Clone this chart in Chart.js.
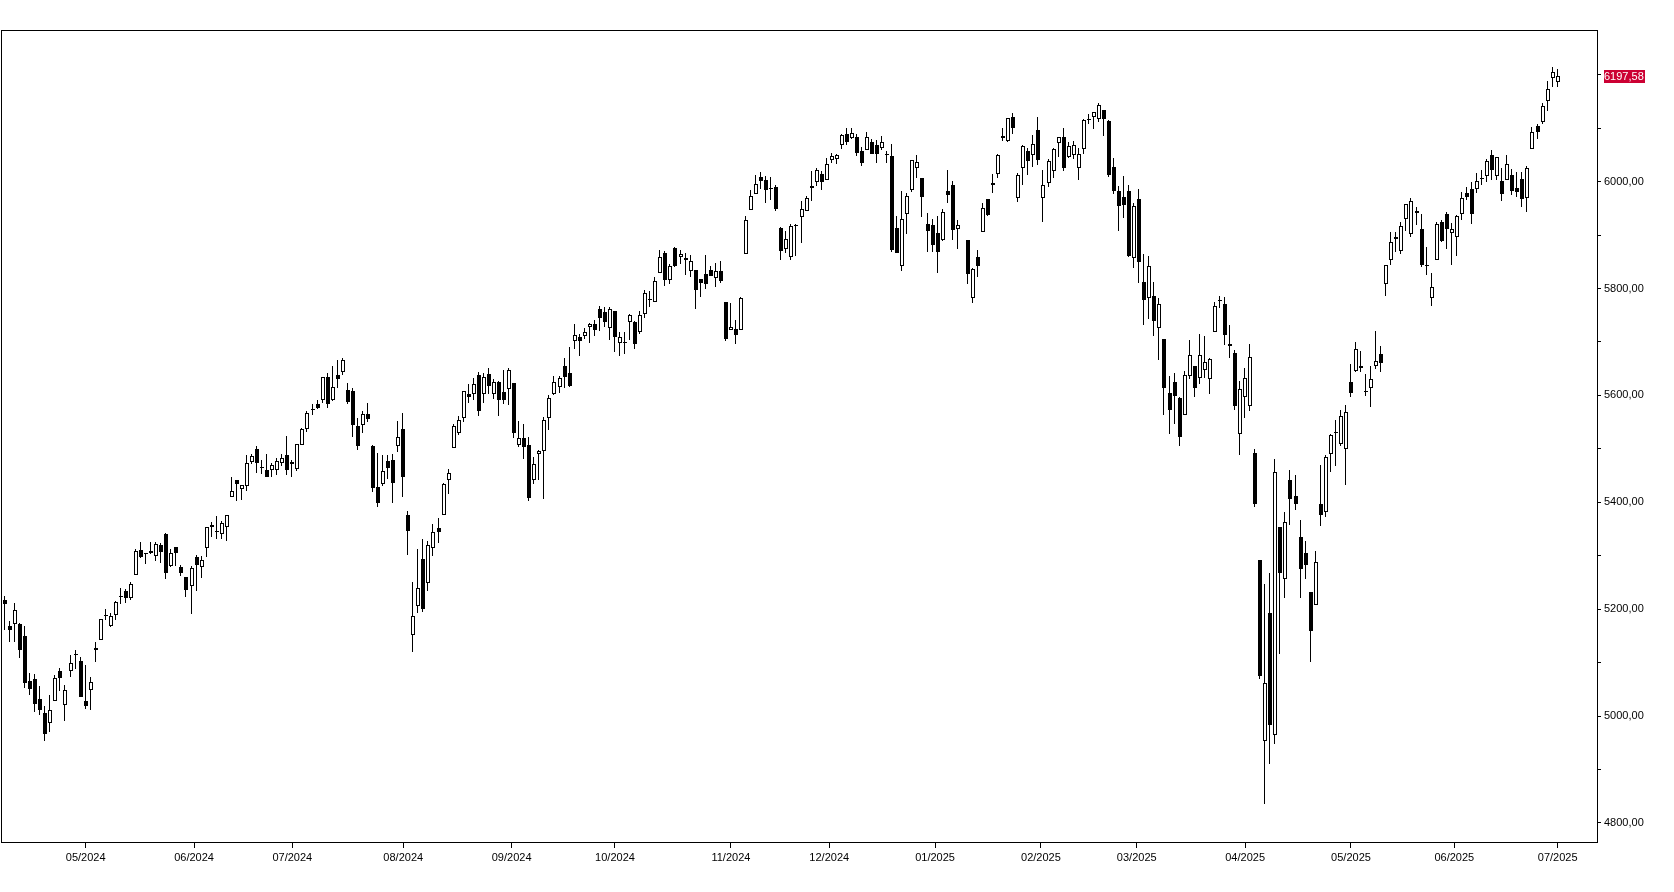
<!DOCTYPE html>
<html>
<head>
<meta charset="utf-8">
<script src="https://cdn.jsdelivr.net/npm/chart.js@4.4.1/dist/chart.umd.min.js"></script>
<style>
html,body{margin:0;padding:0;background:#fff;}
canvas{display:block;}
</style>
</head>
<body>
<canvas id="c" width="1674" height="892"></canvas>
<script>
const dates = [
"2024-04-09","2024-04-10","2024-04-11","2024-04-12","2024-04-15","2024-04-16","2024-04-17","2024-04-18","2024-04-19","2024-04-22","2024-04-23","2024-04-24","2024-04-25","2024-04-26","2024-04-29","2024-04-30",
"2024-05-01","2024-05-02","2024-05-03","2024-05-06","2024-05-07","2024-05-08","2024-05-09","2024-05-10","2024-05-13","2024-05-14","2024-05-15","2024-05-16","2024-05-17","2024-05-20","2024-05-21","2024-05-22","2024-05-23","2024-05-24","2024-05-28","2024-05-29","2024-05-30","2024-05-31",
"2024-06-03","2024-06-04","2024-06-05","2024-06-06","2024-06-07","2024-06-10","2024-06-11","2024-06-12","2024-06-13","2024-06-14","2024-06-17","2024-06-18","2024-06-20","2024-06-21","2024-06-24","2024-06-25","2024-06-26","2024-06-27","2024-06-28",
"2024-07-01","2024-07-02","2024-07-03","2024-07-05","2024-07-08","2024-07-09","2024-07-10","2024-07-11","2024-07-12","2024-07-15","2024-07-16","2024-07-17","2024-07-18","2024-07-19","2024-07-22","2024-07-23","2024-07-24","2024-07-25","2024-07-26","2024-07-29","2024-07-30","2024-07-31",
"2024-08-01","2024-08-02","2024-08-05","2024-08-06","2024-08-07","2024-08-08","2024-08-09","2024-08-12","2024-08-13","2024-08-14","2024-08-15","2024-08-16","2024-08-19","2024-08-20","2024-08-21","2024-08-22","2024-08-23","2024-08-26","2024-08-27","2024-08-28","2024-08-29","2024-08-30",
"2024-09-03","2024-09-04","2024-09-05","2024-09-06","2024-09-09","2024-09-10","2024-09-11","2024-09-12","2024-09-13","2024-09-16","2024-09-17","2024-09-18","2024-09-19","2024-09-20","2024-09-23","2024-09-24","2024-09-25","2024-09-26","2024-09-27","2024-09-30",
"2024-10-01","2024-10-02","2024-10-03","2024-10-04","2024-10-07","2024-10-08","2024-10-09","2024-10-10","2024-10-11","2024-10-14","2024-10-15","2024-10-16","2024-10-17","2024-10-18","2024-10-21","2024-10-22","2024-10-23","2024-10-24","2024-10-25","2024-10-28","2024-10-29","2024-10-30","2024-10-31",
"2024-11-01","2024-11-04","2024-11-05","2024-11-06","2024-11-07","2024-11-08","2024-11-11","2024-11-12","2024-11-13","2024-11-14","2024-11-15","2024-11-18","2024-11-19","2024-11-20","2024-11-21","2024-11-22","2024-11-25","2024-11-26","2024-11-27","2024-11-29",
"2024-12-02","2024-12-03","2024-12-04","2024-12-05","2024-12-06","2024-12-09","2024-12-10","2024-12-11","2024-12-12","2024-12-13","2024-12-16","2024-12-17","2024-12-18","2024-12-19","2024-12-20","2024-12-23","2024-12-24","2024-12-26","2024-12-27","2024-12-30","2024-12-31",
"2025-01-02","2025-01-03","2025-01-06","2025-01-07","2025-01-08","2025-01-09","2025-01-10","2025-01-13","2025-01-14","2025-01-15","2025-01-16","2025-01-17","2025-01-21","2025-01-22","2025-01-23","2025-01-24","2025-01-27","2025-01-28","2025-01-29","2025-01-30","2025-01-31",
"2025-02-03","2025-02-04","2025-02-05","2025-02-06","2025-02-07","2025-02-10","2025-02-11","2025-02-12","2025-02-13","2025-02-14","2025-02-18","2025-02-19","2025-02-20","2025-02-21","2025-02-24","2025-02-25","2025-02-26","2025-02-27","2025-02-28",
"2025-03-03","2025-03-04","2025-03-05","2025-03-06","2025-03-07","2025-03-10","2025-03-11","2025-03-12","2025-03-13","2025-03-14","2025-03-17","2025-03-18","2025-03-19","2025-03-20","2025-03-21","2025-03-24","2025-03-25","2025-03-26","2025-03-27","2025-03-28","2025-03-31",
"2025-04-01","2025-04-02","2025-04-03","2025-04-04","2025-04-07","2025-04-08","2025-04-09","2025-04-10","2025-04-11","2025-04-14","2025-04-15","2025-04-16","2025-04-17","2025-04-21","2025-04-22","2025-04-23","2025-04-24","2025-04-25","2025-04-28","2025-04-29","2025-04-30",
"2025-05-01","2025-05-02","2025-05-05","2025-05-06","2025-05-07","2025-05-08","2025-05-09","2025-05-12","2025-05-13","2025-05-14","2025-05-15","2025-05-16","2025-05-19","2025-05-20","2025-05-21","2025-05-22","2025-05-23","2025-05-27","2025-05-28","2025-05-29","2025-05-30",
"2025-06-02","2025-06-03","2025-06-04","2025-06-05","2025-06-06","2025-06-09","2025-06-10","2025-06-11","2025-06-12","2025-06-13","2025-06-16","2025-06-17","2025-06-18","2025-06-20","2025-06-23","2025-06-24","2025-06-25","2025-06-26","2025-06-27","2025-06-30",
"2025-07-01"
];

// null = session without a candle (market closed 2025-01-09, slot kept empty in the chart)
const opens = [
5217.0,5167.9,5172.9,5171.5,5149.7,5064.6,5069.0,5031.5,5005.4,4987.3,5028.9,5084.7,5019.9,5084.6,5114.1,5103.8,
5029.0,5049.3,5122.8,5142.4,5187.2,5169.0,5189.3,5225.5,5233.1,5221.1,5263.3,5310.1,5303.1,5305.4,5298.7,5319.3,5340.3,5281.5,5315.9,5278.7,5259.8,5243.2,
5297.2,5278.2,5314.5,5357.8,5343.8,5341.2,5353.0,5409.1,5441.9,5424.1,5431.1,5476.2,5500.0,5466.8,5459.6,5460.7,5460.7,5473.6,5488.5,
5471.1,5461.8,5507.4,5537.9,5572.9,5584.2,5591.3,5635.2,5590.8,5638.2,5644.1,5610.2,5608.6,5543.4,5544.8,5565.3,5505.8,5428.7,5434.4,5476.6,5478.7,5505.6,
5537.8,5376.6,5151.1,5206.4,5293.1,5248.9,5314.0,5351.0,5377.0,5442.0,5501.1,5530.5,5557.2,5602.9,5603.1,5637.8,5602.9,5639.7,5602.9,5624.5,5607.3,5612.7,
5623.9,5506.7,5520.1,5507.3,5442.1,5490.5,5496.4,5557.5,5603.3,5615.2,5655.5,5641.7,5702.6,5709.2,5711.9,5727.3,5733.6,5762.2,5755.4,5726.5,
5757.7,5698.2,5698.2,5737.8,5737.1,5719.1,5751.8,5778.4,5775.1,5829.8,5866.7,5816.6,5875.6,5859.4,5857.8,5832.7,5834.5,5817.8,5826.8,5833.9,5819.7,5832.7,5775.3,
5723.2,5725.2,5722.4,5864.9,5947.2,5976.8,6008.9,6003.6,5985.7,5989.6,5912.8,5874.2,5859.2,5917.1,5933.4,5944.4,5992.3,6000.0,6014.1,6004.0,
6040.1,6043.0,6069.4,6089.3,6081.4,6083.0,6057.6,6060.2,6074.3,6068.2,6063.8,6052.6,6047.6,5912.7,5842.0,5940.3,5984.6,6025.0,6006.2,5920.7,5919.7,
5903.3,5891.1,5982.8,5993.3,5910.7,null,5890.7,5782.3,5859.0,5905.2,5967.4,5993.0,6014.1,6081.4,6076.3,6121.4,5969.0,6026.0,6057.7,6050.8,6096.8,
5969.7,5998.1,6020.5,6072.2,6083.1,6046.4,6049.3,6025.1,6060.6,6115.5,6121.6,6117.8,6134.5,6114.1,6026.7,5982.7,5970.9,5981.9,5856.7,
5968.3,5812.0,5781.4,5785.9,5726.0,5705.4,5603.7,5624.8,5594.5,5563.9,5635.6,5654.5,5632.4,5646.9,5630.7,5718.1,5775.9,5771.7,5695.6,5679.1,5527.9,
5597.5,5580.8,5492.7,5292.1,4953.8,5193.6,4965.3,5353.2,5255.6,5442.0,5412.0,5335.8,5305.5,5232.9,5207.7,5395.9,5381.4,5489.7,5529.0,5508.9,5499.4,
5625.1,5645.0,5655.3,5609.1,5614.6,5655.5,5677.9,5807.6,5854.3,5896.7,5869.5,5929.3,5902.9,5944.7,5910.8,5843.5,5781.9,5854.1,5925.1,5939.9,5903.7,
5896.7,5938.6,5978.1,5985.7,5987.1,6004.6,6009.9,6049.4,6009.9,6000.6,6004.0,6012.2,5987.9,6004.2,5969.7,6061.2,6104.2,6112.1,6150.7,6193.4,
6187.3
];

const highs = [
5224.8,5178.4,5211.8,5175.0,5168.4,5079.8,5078.0,5056.7,5019.0,5038.8,5076.1,5089.5,5057.8,5114.6,5123.5,5110.8,
5096.1,5073.2,5139.1,5181.0,5200.2,5192.0,5215.3,5239.7,5237.3,5250.4,5311.8,5325.5,5305.4,5325.3,5326.4,5323.2,5341.9,5311.7,5315.9,5282.3,5260.2,5280.3,
5302.1,5298.8,5354.2,5362.4,5375.1,5365.8,5376.0,5447.3,5441.9,5432.4,5488.5,5490.4,5505.5,5478.3,5490.8,5472.9,5483.1,5490.8,5523.6,
5479.6,5509.7,5539.3,5570.3,5583.1,5590.8,5635.4,5642.5,5655.6,5666.9,5669.7,5622.5,5614.1,5557.5,5570.4,5585.3,5508.0,5491.6,5488.7,5487.7,5489.5,5551.5,
5566.2,5383.9,5250.9,5312.3,5330.6,5328.0,5358.9,5371.2,5436.5,5463.2,5546.2,5562.0,5608.3,5620.5,5632.7,5643.2,5641.8,5651.6,5631.2,5627.0,5647.0,5651.4,
5623.9,5553.0,5546.3,5522.5,5484.2,5497.9,5560.4,5600.7,5636.3,5636.3,5670.8,5689.8,5733.6,5715.1,5725.4,5735.3,5741.0,5767.4,5764.8,5765.1,
5757.7,5719.1,5718.8,5753.3,5739.3,5757.6,5796.8,5796.0,5822.1,5871.4,5870.4,5846.5,5878.5,5872.2,5866.9,5863.0,5834.9,5817.8,5862.8,5842.9,5847.2,5850.9,5775.3,
5772.6,5741.4,5783.4,5936.1,5983.8,6012.5,6017.3,6009.9,6008.2,5993.9,5915.3,5908.1,5920.8,5920.7,5964.0,5972.9,6020.8,6025.4,6020.2,6044.2,
6053.6,6052.1,6089.8,6100.0,6100.0,6088.5,6065.4,6092.6,6079.7,6078.6,6085.2,6057.7,6070.7,5935.5,5982.1,5978.3,6040.1,6049.8,6006.2,5940.8,5929.7,
5935.1,5949.3,6021.0,6000.7,5927.9,null,5890.7,5838.8,5871.9,5960.6,5967.4,6015.0,6051.5,6100.8,6118.7,6128.2,6017.2,6069.1,6062.8,6086.6,6120.9,
6022.1,6042.5,6062.9,6084.0,6101.3,6073.4,6076.3,6063.6,6116.9,6127.5,6129.6,6147.4,6134.5,6114.8,6043.7,5992.7,6009.8,5993.7,5959.4,
5986.1,5865.1,5860.6,5812.1,5783.0,5705.4,5636.3,5642.2,5597.8,5645.3,5703.5,5654.5,5715.3,5711.2,5670.8,5775.1,5787.0,5783.6,5732.3,5685.9,5627.6,
5650.6,5695.3,5499.5,5292.1,5246.6,5267.5,5481.3,5353.2,5381.5,5459.5,5450.4,5367.2,5328.3,5232.9,5309.6,5469.7,5489.4,5528.1,5553.7,5572.0,5581.8,
5658.9,5700.7,5683.4,5640.9,5655.0,5720.1,5691.6,5844.2,5906.6,5906.6,5924.3,5958.6,5968.6,5953.1,5939.0,5878.1,5829.5,5924.7,5929.0,5943.1,5922.1,
5937.4,5981.4,5990.5,5999.7,6016.9,6021.3,6043.0,6059.4,6045.4,6026.2,6050.8,6023.3,6018.3,6018.2,6028.8,6101.8,6108.5,6146.5,6187.7,6215.1,
6210.8
];

const lows = [
5160.8,5138.7,5138.8,5107.9,5052.5,5039.8,5007.3,5001.9,4953.6,4969.4,5028.0,5047.0,4990.6,5073.1,5088.7,5035.3,
5013.5,5011.1,5101.2,5142.4,5179.0,5165.9,5180.4,5209.7,5211.2,5218.0,5263.0,5296.2,5283.6,5302.4,5290.7,5286.0,5256.9,5278.4,5280.9,5262.7,5222.1,5191.7,
5234.3,5257.6,5297.6,5335.4,5331.3,5331.5,5327.3,5409.1,5402.5,5403.8,5420.4,5471.3,5455.6,5452.0,5446.6,5446.6,5451.9,5467.5,5451.1,
5446.5,5458.4,5507.4,5531.6,5562.5,5574.6,5586.4,5576.5,5590.4,5614.8,5639.0,5584.8,5522.8,5497.0,5529.0,5550.9,5420.0,5391.0,5430.7,5444.4,5398.6,5493.2,
5410.4,5302.0,5119.3,5193.6,5195.5,5233.9,5299.6,5324.4,5377.0,5415.6,5501.1,5525.2,5550.7,5585.5,5591.6,5561.0,5585.2,5602.3,5593.5,5561.0,5583.7,5581.3,
5521.2,5503.7,5480.3,5402.6,5434.5,5441.7,5407.0,5535.5,5601.6,5604.5,5614.1,5615.1,5686.4,5674.5,5705.0,5699.0,5712.1,5721.0,5727.3,5703.5,
5681.3,5674.0,5677.6,5702.8,5686.9,5714.6,5745.0,5764.8,5775.1,5829.8,5804.5,5808.3,5840.3,5846.1,5824.8,5821.2,5762.4,5784.9,5800.0,5823.1,5802.2,5811.3,5702.7,
5723.2,5696.5,5722.1,5864.9,5947.2,5976.8,5986.7,5960.1,5965.9,5946.0,5853.0,5866.0,5853.0,5860.6,5885.1,5944.4,5963.9,5992.3,5984.9,6004.0,
6035.3,6033.4,6061.1,6069.6,6080.0,6048.6,6029.9,6060.2,6051.3,6035.8,6059.1,6035.2,5867.8,5866.1,5832.3,5902.6,5981.4,6007.4,5933.0,5869.2,5868.9,
5829.5,5888.7,5960.0,5890.7,5874.8,null,5807.8,5773.3,5820.9,5905.2,5934.9,5978.4,6006.9,6076.1,6074.7,6088.7,5962.9,5994.3,6013.0,6027.5,6030.9,
5923.9,5990.9,6007.1,6046.8,6020.0,6044.8,6042.3,6003.0,6051.0,6107.6,6099.5,6111.2,6084.6,6008.6,5977.8,5908.5,5932.7,5858.8,5837.7,
5810.9,5732.6,5742.4,5711.6,5666.3,5564.0,5528.4,5546.1,5504.7,5563.9,5631.1,5597.8,5622.2,5632.3,5603.1,5718.1,5763.6,5695.2,5670.9,5572.4,5488.7,
5558.5,5571.5,5390.8,5069.9,4835.0,4910.4,4948.4,5115.3,5220.8,5358.0,5386.4,5220.8,5255.6,5101.6,5207.7,5356.4,5372.0,5455.9,5468.6,5505.7,5433.2,
5597.4,5644.0,5644.1,5598.2,5578.6,5649.7,5643.9,5786.2,5843.7,5868.4,5865.2,5907.4,5895.7,5919.0,5839.6,5825.8,5767.4,5854.1,5886.8,5873.8,5843.7,
5861.4,5929.0,5966.1,5921.2,5978.6,5994.2,6000.3,6002.3,6003.9,5963.2,6004.0,5974.8,5971.9,5952.6,5943.2,6061.2,6080.1,6107.4,6132.4,6178.0,
6178.0
];

const closes = [
5209.9,5160.6,5199.1,5123.4,5061.8,5051.4,5022.2,5011.1,4967.2,5010.6,5070.6,5071.6,5048.4,5100.0,5116.2,5035.7,
5018.4,5064.2,5127.8,5180.7,5187.7,5187.7,5214.1,5222.7,5221.4,5246.7,5308.2,5297.1,5303.3,5308.1,5321.4,5307.0,5267.8,5304.7,5306.0,5267.0,5235.5,5277.5,
5283.4,5291.3,5354.0,5353.0,5347.0,5360.8,5375.3,5421.0,5433.7,5431.6,5473.2,5487.0,5473.2,5464.6,5447.9,5469.3,5477.9,5482.9,5460.5,
5475.1,5509.0,5537.0,5567.2,5572.9,5577.0,5633.9,5584.5,5615.4,5631.2,5667.2,5588.3,5544.6,5505.0,5564.4,5555.7,5427.1,5399.2,5459.1,5463.5,5436.4,5522.3,
5446.7,5346.6,5186.3,5240.0,5199.5,5319.3,5344.2,5344.4,5434.4,5455.2,5543.2,5554.3,5608.3,5597.1,5620.9,5570.6,5634.6,5616.8,5625.8,5592.2,5592.0,5648.4,
5528.9,5520.1,5503.4,5408.4,5471.1,5495.5,5554.1,5596.0,5626.0,5633.1,5634.6,5618.3,5713.6,5702.6,5718.6,5732.9,5722.3,5745.4,5738.2,5762.5,
5708.8,5709.5,5699.9,5751.1,5695.9,5751.1,5792.0,5780.1,5815.0,5859.9,5815.3,5842.5,5841.5,5864.7,5854.0,5851.2,5797.4,5809.9,5808.1,5823.5,5832.9,5813.7,5705.5,
5728.8,5712.7,5782.8,5929.0,5973.1,5995.5,6001.4,5984.0,5985.4,5949.2,5870.6,5893.6,5917.0,5917.1,5948.7,5969.3,5987.4,6021.6,5998.7,6032.4,
6047.2,6049.9,6086.5,6075.1,6090.3,6052.9,6034.9,6084.2,6051.3,6051.1,6074.1,6050.6,5872.2,5867.1,5930.9,5974.1,6040.0,6037.6,5970.8,5906.9,5881.6,
5868.6,5942.5,5975.4,5909.0,5918.3,null,5827.0,5836.2,5842.9,5949.9,5937.3,5996.7,6049.2,6086.4,6118.7,6101.2,6012.3,6067.7,6039.3,6071.2,6040.5,
5994.6,6037.9,6061.5,6083.6,6026.0,6066.4,6068.5,6052.0,6115.1,6114.6,6129.6,6144.2,6117.5,6013.1,5983.3,5955.3,5956.1,5861.6,5954.5,
5849.7,5778.2,5842.6,5738.5,5770.2,5614.6,5572.1,5599.3,5521.5,5638.9,5675.1,5614.7,5675.3,5662.9,5667.6,5767.6,5776.7,5712.2,5693.3,5580.9,5611.9,
5633.1,5671.0,5396.5,5074.1,5062.3,4982.8,5456.9,5268.1,5363.4,5406.0,5396.6,5275.7,5282.7,5158.2,5287.8,5375.9,5484.8,5525.2,5528.8,5560.8,5569.1,
5604.1,5686.7,5650.4,5606.9,5631.3,5663.9,5659.9,5844.2,5886.6,5892.6,5916.9,5958.4,5963.6,5940.5,5844.6,5842.0,5802.8,5921.5,5888.6,5912.2,5911.7,
5935.9,5970.4,5970.8,5939.3,6000.4,6005.9,6038.8,6022.2,6045.3,5977.0,6033.1,5982.7,5980.9,5967.8,6025.2,6092.2,6092.2,6141.0,6173.1,6205.0,
6197.58
];

const yTickValues = [4800,4900,5000,5100,5200,5300,5400,5500,5600,5700,5800,5900,6000,6100,6200];
const yLabelValues = [4800,5000,5200,5400,5600,5800,6000];
const lastPrice = closes[closes.length - 1];

const fmt = v => Number(v).toFixed(2).replace('.', ',');

// month ticks: at the first session if it falls on the 1st, otherwise between the two sessions
const monthTickPos = [];
const monthTickLabel = {};
for (let i = 1; i < dates.length; i++) {
  if (dates[i].slice(5,7) !== dates[i-1].slice(5,7)) {
    const p = dates[i].slice(8,10) === '01' ? i : i - 0.5;
    monthTickPos.push(p);
    monthTickLabel[p] = dates[i].slice(5,7) + '/' + dates[i].slice(0,4);
  }
}

const idxs = dates.map((d,i) => i).filter(i => opens[i] !== null);
const bodyData = idxs.map(i => ({x: i, y: [Math.min(opens[i], closes[i]), Math.max(opens[i], closes[i])]}));
const wickData = idxs.map(i => ({x: i, y: [lows[i], highs[i]]}));
const bodyColors = idxs.map(i => closes[i] >= opens[i] ? '#ffffff' : '#000000');

const FONT = {family: '"Liberation Sans", Arial, sans-serif', size: 11};

// snap the library-computed bar geometry to whole pixels for crisp candles
const snapPlugin = {
  id: 'snap',
  beforeDatasetsDraw(chart) {
    chart.data.datasets.forEach((ds, di) => {
      const meta = chart.getDatasetMeta(di);
      meta.data.forEach(el => {
        const c = Math.round(el.x);
        el.x = ds.label === 'wick' ? c - 0.5 : c;
        el.y = Math.round(el.y);
        el.base = Math.round(el.base);
      });
    });
  }
};

const framePlugin = {
  id: 'frame',
  afterDraw(chart) {
    const {ctx, chartArea: a} = chart;
    ctx.save();
    ctx.strokeStyle = '#000';
    ctx.lineWidth = 1;
    const l = Math.round(a.left), t = Math.round(a.top), r = Math.round(a.right), b = Math.round(a.bottom);
    ctx.strokeRect(l + 0.5, t + 0.5, r - l, b - t);
    ctx.restore();
  }
};

const pricePlugin = {
  id: 'priceTag',
  afterDraw(chart) {
    const {ctx, chartArea: a, scales} = chart;
    const y = Math.round(scales.y.getPixelForValue(lastPrice));
    const x = Math.round(a.right) + 7;
    ctx.save();
    ctx.fillStyle = '#cc0033';
    ctx.fillRect(x, y - 6, 41, 13);
    ctx.fillStyle = '#ffffff';
    ctx.font = '11px "Liberation Sans", Arial, sans-serif';
    ctx.textBaseline = 'middle';
    ctx.textAlign = 'left';
    ctx.fillText(fmt(lastPrice), x, y + 0.5);
    ctx.restore();
  }
};

new Chart(document.getElementById('c'), {
  type: 'bar',
  data: {
    datasets: [
      {
        label: 'body',
        data: bodyData,
        backgroundColor: bodyColors,
        borderColor: '#000000',
        borderWidth: 1,
        borderSkipped: false,
        barThickness: 4,
        minBarLength: 1,
        grouped: false,
        inflateAmount: 0,
        order: 0
      },
      {
        label: 'wick',
        data: wickData,
        backgroundColor: '#000000',
        borderWidth: 0,
        barThickness: 1,
        grouped: false,
        inflateAmount: 0,
        order: 1
      }
    ]
  },
  options: {
    responsive: false,
    animation: false,
    devicePixelRatio: 1,
    layout: {padding: {top: 30, left: 1, right: 0, bottom: 0}},
    plugins: {legend: {display: false}, tooltip: {enabled: false}},
    scales: {
      x: {
        type: 'linear',
        offset: false,
        min: -0.793,
        max: 315.8,
        grid: {display: true, drawOnChartArea: false, drawTicks: true, tickLength: 6, color: '#000000', offset: false},
        border: {display: false},
        afterBuildTicks: s => { s.ticks = monthTickPos.map(v => ({value: v})); },
        afterFit: s => { s.height = 50; },
        ticks: {
          autoSkip: false, maxRotation: 0, minRotation: 0, padding: 3, color: '#000000', font: FONT,
          callback: v => monthTickLabel[v] || ''
        }
      },
      y: {
        type: 'linear',
        position: 'right',
        min: 4764.2,
        max: 6283.9,
        grid: {display: true, drawOnChartArea: false, drawTicks: true, tickLength: 4, color: '#000000'},
        border: {display: false},
        afterBuildTicks: s => { s.ticks = yTickValues.map(v => ({value: v})); },
        afterFit: s => { s.width = 77; },
        ticks: {
          autoSkip: false, padding: 3, color: '#000000', font: FONT,
          callback: v => yLabelValues.includes(v) ? fmt(v) : ''
        }
      }
    }
  },
  plugins: [snapPlugin, framePlugin, pricePlugin]
});
</script>
</body>
</html>
